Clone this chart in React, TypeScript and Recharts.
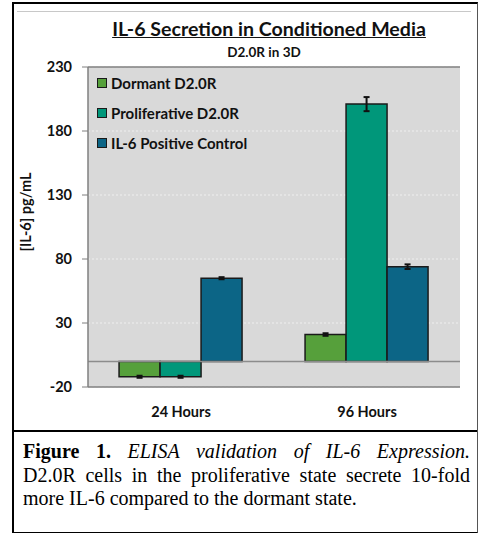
import React from 'react';
import {
  Bar,
  BarChart,
  CartesianGrid,
  ErrorBar,
  ReferenceLine,
  XAxis,
  YAxis,
} from 'recharts';

const categories = ['24 Hours', '96 Hours'];
const dormant = [-12, 21];
const proliferative = [-12, 201];
const positiveControl = [65, 74];
const dormantErr = [0.8, 1];
const proliferativeErr = [0.8, 5.5];
const positiveControlErr = [0.8, 1.8];
const yTicks = [-20, 30, 80, 130, 180, 230];

const series = [
  { key: 'dormant', name: 'Dormant D2.0R', color: '#56a03b' },
  { key: 'proliferative', name: 'Proliferative D2.0R', color: '#00977a' },
  { key: 'control', name: 'IL-6 Positive Control', color: '#0c6586' },
];

const data = categories.map((category, i) => ({
  category,
  dormant: dormant[i],
  dormantErr: dormantErr[i],
  proliferative: proliferative[i],
  proliferativeErr: proliferativeErr[i],
  control: positiveControl[i],
  controlErr: positiveControlErr[i],
}));

const sans = 'Lato, "Open Sans", sans-serif';
const serif = '"Liberation Serif", "Times New Roman", serif';

function LegendBox() {
  return (
    <div
      style={{
        position: 'absolute',
        left: 97,
        top: 68,
        fontFamily: sans,
        fontWeight: 700,
        fontSize: 15,
        color: '#111',
      }}
    >
      {series.map((s) => (
        <div key={s.key} style={{ display: 'flex', alignItems: 'center', height: 30 }}>
          <span
            style={{
              display: 'inline-block',
              width: 8,
              height: 8,
              background: s.color,
              border: '1.5px solid #1a1a1a',
              marginRight: 4,
            }}
          />
          {s.name}
        </div>
      ))}
    </div>
  );
}

export default function App() {
  return (
    <div style={{ position: 'absolute', left: 0, top: 0, width: 478, height: 533, background: '#fff' }}>
      {/* outer frame */}
      <div
        style={{
          position: 'absolute',
          left: 12,
          top: 2,
          width: 463,
          height: 528,
          borderTop: '2px solid #000',
          borderLeft: '2px solid #000',
          borderBottom: '2px solid #000',
          borderRight: '1.5px solid #555',
        }}
      />
      <div style={{ position: 'absolute', left: 17, top: 11, width: 454, height: 1, background: '#c8c8c8' }} />
      <div style={{ position: 'absolute', left: 12, top: 430, width: 465, height: 2, background: '#000' }} />

      <div
        style={{
          position: 'absolute',
          left: 0,
          width: 538,
          top: 17,
          textAlign: 'center',
          fontFamily: sans,
          fontWeight: 700,
          fontSize: 19.6,
          color: '#111',
          textDecoration: 'underline',
        }}
      >
        IL-6 Secretion in Conditioned Media
      </div>
      <div
        style={{
          position: 'absolute',
          left: 0,
          width: 528,
          top: 44,
          textAlign: 'center',
          fontFamily: sans,
          fontWeight: 700,
          fontSize: 13.5,
          color: '#111',
        }}
      >
        D2.0R in 3D
      </div>
      <div
        style={{
          position: 'absolute',
          left: 25,
          top: 212,
          transform: 'translate(-50%, -50%) rotate(-90deg)',
          whiteSpace: 'nowrap',
          fontFamily: sans,
          fontWeight: 700,
          fontSize: 14.5,
          color: '#111',
        }}
      >
        [IL-6] pg/mL
      </div>

      <div style={{ position: 'absolute', left: 0, top: 0 }}>
        <BarChart
          width={478}
          height={430}
          data={data}
          margin={{ top: 67, right: 18, bottom: 0, left: 0 }}
          barCategoryGap="16.7%"
          barGap={0}
        >
          <CartesianGrid vertical={false} stroke="#efefef" strokeDasharray="2 2" fill="#d9d9d9" />
          <XAxis
            dataKey="category"
            height={43}
            tickLine={false}
            axisLine={{ stroke: '#7f7f7f', strokeWidth: 1.5 }}
            tickMargin={14}
            tick={{ fontFamily: sans, fontWeight: 700, fontSize: 14.5, fill: '#111' }}
          />
          <YAxis
            width={88}
            domain={[-20, 230]}
            ticks={yTicks}
            interval={0}
            tickSize={6}
            tickMargin={10}
            tickLine={{ stroke: '#7f7f7f' }}
            axisLine={{ stroke: '#7f7f7f', strokeWidth: 1.5 }}
            tick={{ fontFamily: sans, fontWeight: 700, fontSize: 14.5, fill: '#111' }}
          />
          <YAxis
            yAxisId="right"
            orientation="right"
            width={0}
            domain={[-20, 230]}
            tick={false}
            tickLine={false}
            axisLine={{ stroke: '#7f7f7f', strokeWidth: 1.5 }}
          />
          <ReferenceLine y={230} stroke="#7f7f7f" strokeWidth={1.5} />
          <ReferenceLine y={0} stroke="#8c8c8c" strokeWidth={1.5} />
          {series.map((s) => (
            <Bar
              key={s.key}
              dataKey={s.key}
              name={s.name}
              fill={s.color}
              stroke="#1a1a1a"
              strokeWidth={1.5}
              isAnimationActive={false}
            >
              <ErrorBar dataKey={`${s.key}Err`} width={3} stroke="#111" strokeWidth={2} />
            </Bar>
          ))}
        </BarChart>
      </div>

      <LegendBox />

      <div
        style={{
          position: 'absolute',
          left: 23,
          top: 440,
          width: 447,
          fontFamily: serif,
          fontSize: 20,
          lineHeight: '23.5px',
          color: '#000',
        }}
      >
        <div style={{ textAlign: 'justify', textAlignLast: 'justify' }}>
          <b>Figure 1.</b> <i>ELISA validation of IL-6 Expression.</i>
        </div>
        <div style={{ textAlign: 'justify', textAlignLast: 'justify' }}>
          D2.0R cells in the proliferative state secrete 10-fold
        </div>
        <div>more IL-6 compared to the dormant state.</div>
      </div>
    </div>
  );
}
